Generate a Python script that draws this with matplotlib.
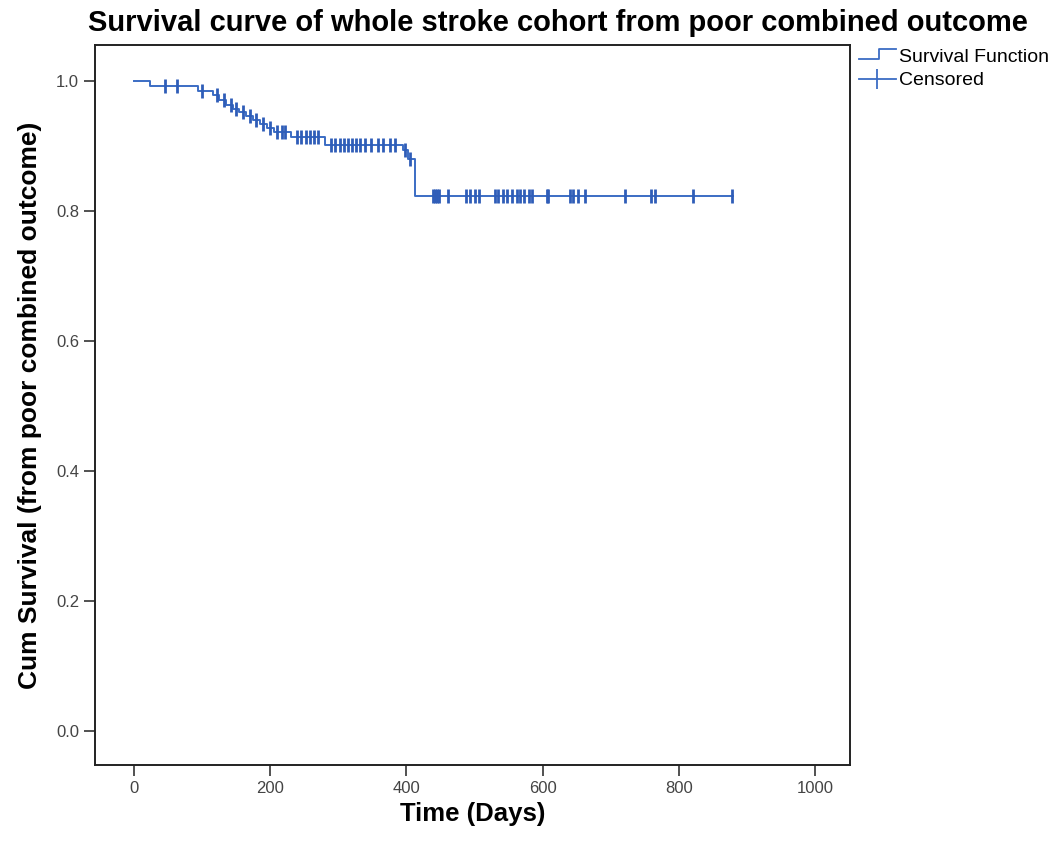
"""Kaplan-Meier style survival curve of the whole stroke cohort (SPSS look)."""

import matplotlib
matplotlib.use("Agg")
import matplotlib.pyplot as plt
import matplotlib.lines as mlines
from matplotlib.legend_handler import HandlerBase
import numpy as np

plt.rcParams["font.family"] = ["Liberation Sans", "DejaVu Sans"]

# step changes of the survival function (days, cumulative survival after step)
step_times = [0, 23, 94, 116, 125, 135, 145, 155, 165, 175, 185, 195, 205, 230, 280, 395, 403, 413]
step_surv = [1.0, 0.992, 0.985, 0.978, 0.970, 0.963, 0.957, 0.952, 0.946, 0.940,
             0.934, 0.927, 0.921, 0.914, 0.901, 0.893, 0.880, 0.823]
end_time = 880

# censored observations (days)
censor_times = [46, 64, 100, 122, 132, 142, 150, 160, 170, 180, 190, 200, 210, 218,
                222, 240, 246, 252, 258, 264, 270, 290, 296, 302, 308, 314, 320, 326,
                332, 340, 348, 358, 366, 376, 384, 398, 406,
                439, 442, 445, 448, 461, 488, 493, 501, 507, 530, 535, 542, 548, 555,
                562, 567, 573, 580, 584, 606, 608, 640, 645, 652, 662, 721, 759, 765,
                821, 878]

LINE_COLOR = "#3b6cc4"
CENSOR_COLOR = "#2f5db8"


class StepHandler(HandlerBase):
    # little step icon like the SPSS legend
    def create_artists(self, legend, orig_handle, xdescent, ydescent, width, height,
                       fontsize, trans):
        x0, x1 = -xdescent, -xdescent + width
        xm = x0 + 0.55 * width
        ylo, yhi = -ydescent + 0.2 * height, -ydescent + 0.95 * height
        line = mlines.Line2D([x0, xm, xm, x1], [ylo, ylo, yhi, yhi],
                             color=orig_handle.get_color(), linewidth=1.3, transform=trans)
        return [line]


fig = plt.figure(figsize=(10.57, 8.46), dpi=100)
ax = fig.add_axes([0.0899, 0.0957, 0.7141, 0.8511])

xs = np.append(step_times, end_time)
ys = np.append(step_surv, step_surv[-1])
ax.step(xs, ys, where="post", color=LINE_COLOR, linewidth=1.4)

idx = np.searchsorted(step_times, censor_times, side="right") - 1
cens_y = np.array(step_surv)[idx]
ax.plot(censor_times, cens_y, linestyle="none", marker="|", markersize=10,
        markeredgewidth=2.0, color=CENSOR_COLOR)

ax.set_xlim(-57, 1051)
ax.set_ylim(-0.052, 1.055)
ax.set_xticks([0, 200, 400, 600, 800, 1000])
ax.set_yticks([0.0, 0.2, 0.4, 0.6, 0.8, 1.0])
ax.set_yticklabels(["0.0", "0.2", "0.4", "0.6", "0.8", "1.0"])
ax.tick_params(direction="out", length=8, width=1.2, colors="#333333",
               labelsize=12, labelcolor="#444444")
for sp in ax.spines.values():
    sp.set_linewidth(1.4)
    sp.set_color("#222222")

ax.set_xlabel("Time (Days)", fontsize=18.5, fontweight="bold", labelpad=4)
ax.set_ylabel("Cum Survival (from poor combined outcome)", fontsize=19,
              fontweight="bold", labelpad=10)

fig.text(0.528, 0.973, "Survival curve of whole stroke cohort from poor combined outcome",
         ha="center", va="center", fontsize=21, fontweight="bold")

surv_handle = mlines.Line2D([], [], color=LINE_COLOR, label="Survival Function")
cens_handle = mlines.Line2D([], [], color=LINE_COLOR, linewidth=1.3, marker="|",
                            markersize=14, markeredgewidth=1.3, label="Censored")
fig.legend(handles=[surv_handle, cens_handle], loc="upper left",
           bbox_to_anchor=(0.805, 0.952), frameon=False, fontsize=14,
           handlelength=1.9, handletextpad=0.2, labelspacing=0.3, borderaxespad=0,
           handler_map={surv_handle: StepHandler()})

fig.savefig("out.png", dpi=100)
